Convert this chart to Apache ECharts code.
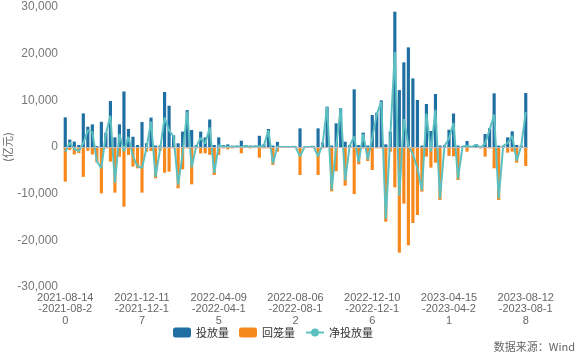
<!DOCTYPE html>
<html>
<head>
<meta charset="utf-8">
<script src="https://cdn.jsdelivr.net/npm/echarts@6/dist/echarts.min.js"></script>
<style>
  html, body { margin: 0; padding: 0; background: #fff; }
  #chart { width: 579px; height: 353px; }
</style>
</head>
<body>
<div id="chart"></div>
<script>
// 周度区间
var weeks = [
  '2021-08-14-2021-08-20','2021-08-21-2021-08-27','2021-08-28-2021-09-03','2021-09-04-2021-09-10','2021-09-11-2021-09-17',
  '2021-09-18-2021-09-24','2021-09-25-2021-10-01','2021-10-02-2021-10-08','2021-10-09-2021-10-15','2021-10-16-2021-10-22',
  '2021-10-23-2021-10-29','2021-10-30-2021-11-05','2021-11-06-2021-11-12','2021-11-13-2021-11-19','2021-11-20-2021-11-26',
  '2021-11-27-2021-12-03','2021-12-04-2021-12-10','2021-12-11-2021-12-17','2021-12-18-2021-12-24','2021-12-25-2021-12-31',
  '2022-01-01-2022-01-07','2022-01-08-2022-01-14','2022-01-15-2022-01-21','2022-01-22-2022-01-28','2022-01-29-2022-02-04',
  '2022-02-05-2022-02-11','2022-02-12-2022-02-18','2022-02-19-2022-02-25','2022-02-26-2022-03-04','2022-03-05-2022-03-11',
  '2022-03-12-2022-03-18','2022-03-19-2022-03-25','2022-03-26-2022-04-01','2022-04-02-2022-04-08','2022-04-09-2022-04-15',
  '2022-04-16-2022-04-22','2022-04-23-2022-04-29','2022-04-30-2022-05-06','2022-05-07-2022-05-13','2022-05-14-2022-05-20',
  '2022-05-21-2022-05-27','2022-05-28-2022-06-03','2022-06-04-2022-06-10','2022-06-11-2022-06-17','2022-06-18-2022-06-24',
  '2022-06-25-2022-07-01','2022-07-02-2022-07-08','2022-07-09-2022-07-15','2022-07-16-2022-07-22','2022-07-23-2022-07-29',
  '2022-07-30-2022-08-05','2022-08-06-2022-08-12','2022-08-13-2022-08-19','2022-08-20-2022-08-26','2022-08-27-2022-09-02',
  '2022-09-03-2022-09-09','2022-09-10-2022-09-16','2022-09-17-2022-09-23','2022-09-24-2022-09-30','2022-10-08-2022-10-14',
  '2022-10-15-2022-10-21','2022-10-22-2022-10-28','2022-10-29-2022-11-04','2022-11-05-2022-11-11','2022-11-12-2022-11-18',
  '2022-11-19-2022-11-25','2022-11-26-2022-12-02','2022-12-03-2022-12-09','2022-12-10-2022-12-16','2022-12-17-2022-12-23',
  '2022-12-24-2022-12-30','2022-12-31-2023-01-06','2023-01-07-2023-01-13','2023-01-14-2023-01-20','2023-01-28-2023-02-03',
  '2023-02-04-2023-02-10','2023-02-11-2023-02-17','2023-02-18-2023-02-24','2023-02-25-2023-03-03','2023-03-04-2023-03-10',
  '2023-03-11-2023-03-17','2023-03-18-2023-03-24','2023-03-25-2023-03-31','2023-04-01-2023-04-07','2023-04-08-2023-04-14',
  '2023-04-15-2023-04-21','2023-04-22-2023-04-28','2023-04-29-2023-05-05','2023-05-06-2023-05-12','2023-05-13-2023-05-19',
  '2023-05-20-2023-05-26','2023-05-27-2023-06-02','2023-06-03-2023-06-09','2023-06-10-2023-06-16','2023-06-17-2023-06-23',
  '2023-06-24-2023-06-30','2023-07-01-2023-07-07','2023-07-08-2023-07-14','2023-07-15-2023-07-21','2023-07-22-2023-07-28',
  '2023-07-29-2023-08-04','2023-08-05-2023-08-11','2023-08-12-2023-08-18'
];

// 投放量（亿元）
var injection = [
  6350, 1600, 1170, 430, 7200, 4350, 4850, 200, 5400, 3070,
  9850, 2070, 4850, 11900, 3860, 2200, 430, 5350, 800, 6300,
  300, 300, 11800, 8850, 2500, 800, 3300, 7900, 3640, 430,
  3300, 2070, 5900, 430, 2070, 430, 570, 290, 300, 1360,
  400, 300, 300, 2400, 600, 3860, 300, 1100, 200, 150,
  100, 100, 4000, 100, 100, 200, 4000, 930, 8640, 300,
  5070, 8300, 1140, 430, 12350, 400, 3070, 300, 6860, 7350,
  9990, 570, 3280, 29000, 12200, 18140, 21350, 14700, 10070, 300,
  9210, 3430, 11350, 300, 400, 3700, 7180, 300, 200, 1290,
  200, 640, 200, 2790, 4000, 11500, 300, 300, 2070, 3360,
  430, 300, 11570
];

// 回笼量（亿元）
var withdrawal = [
  -7430, -640, -1600, -1300, -6400, -800, -1600, -3300, -9930, -300,
  -3140, -9780, -2070, -12800, -1700, -4200, -4570, -9780, -1000, -860,
  -6700, -800, -5500, -5280, -300, -8850, -4780, -300, -8000, -300,
  -1360, -1360, -1700, -6000, -1700, -300, -500, -300, -200, -1360,
  -200, -300, -200, -2300, -300, -300, -3860, -1000, -200, -150,
  -100, -50, -6000, -100, -100, -100, -6000, -300, 0, -9500,
  -5200, 0, -8300, -200, -10100, -3700, -300, -3000, -4930, -300,
  -300, -16000, -1000, -8640, -22640, -12140, -21070, -16280, -14570, -9570,
  -2070, -4430, -3360, -11350, -200, -1900, -2000, -7070, -100, -1000,
  -200, -200, -300, -2070, -300, -4570, -11350, -100, -1210, -1000,
  -3360, -100, -4070
];

// 净投放量（亿元）
var netInjection = [
  -1080, 960, -430, -870, 800, 3550, 3250, -3100, -4530, 2770,
  6710, -7710, 2780, -900, 2160, -2000, -4140, -4430, -200, 5440,
  -6400, -500, 6300, 3570, 2200, -8050, -1480, 7600, -4360, 130,
  1940, 710, 4200, -5570, 370, 130, 70, -10, 100, 0,
  200, 0, 100, 100, 300, 3560, -3560, 100, 0, 0,
  0, 50, -2000, 0, 0, 100, -2000, 630, 8640, -9200,
  -130, 8300, -7160, 230, 2250, -3300, 2770, -2700, 1930, 7050,
  9690, -15430, 2280, 20360, -10440, 6000, 280, -1580, -4500, -9270,
  7140, -1000, 7990, -11050, 200, 1800, 5180, -6770, 100, 290,
  0, 440, -100, 720, 3700, 6930, -11050, 200, 860, 2360,
  -2930, 200, 7500
];

var yTicks = [-30000, -20000, -10000, 0, 10000, 20000, 30000];

var myChart = echarts.init(document.getElementById('chart'));
var options = {
  animation: false,
  textStyle: { fontFamily: '"Liberation Sans", "Noto Sans CJK SC", sans-serif' },
  grid: { left: 63, right: 51, top: 7, bottom: 66, outerBoundsMode: 'none' },
  legend: {
    left: 168,
    top: 322,
    itemWidth: 18,
    itemHeight: 10,
    itemGap: 10,
    textStyle: { fontSize: 11, color: '#333', fontFamily: '"Noto Sans CJK SC", sans-serif' },
    data: [
      { name: '投放量', icon: 'roundRect' },
      { name: '回笼量', icon: 'roundRect' },
      { name: '净投放量' }
    ]
  },
  graphic: [{
    type: 'text',
    right: 4,
    bottom: 1,
    style: {
      text: '数据来源：Wind',
      fill: '#666',
      font: '11px "Noto Sans CJK SC", sans-serif'
    }
  }],
  xAxis: {
    type: 'category',
    data: weeks,
    axisLine: { show: false, onZero: false },
    axisTick: { show: false },
    axisLabel: {
      interval: 16,
      margin: 5,
      fontSize: 11,
      lineHeight: 11.5,
      color: '#666',
      formatter: function (v) {
        return v.slice(0, 10) + '\n' + v.slice(10, 20) + '\n' + v.slice(20);
      }
    }
  },
  yAxis: {
    type: 'value',
    min: yTicks[0],
    max: yTicks[yTicks.length - 1],
    interval: 10000,
    name: '(亿元)',
    nameLocation: 'middle',
    nameRotate: 90,
    nameGap: 50,
    nameMoveOverlap: false,
    nameTextStyle: { fontSize: 11, color: '#666', fontFamily: '"Noto Sans CJK SC", sans-serif' },
    axisLine: { show: false },
    axisTick: { show: false },
    splitLine: { show: false },
    axisLabel: {
      fontSize: 12,
      color: '#777',
      margin: 5,
      formatter: function (v) {
        return v.toLocaleString('en-US');
      }
    }
  },
  series: [
    {
      name: '投放量',
      type: 'bar',
      stack: 'total',
      barCategoryGap: '30%',
      itemStyle: { color: '#1f6fa3' },
      data: injection,
      markLine: {
        silent: true,
        symbol: 'none',
        label: { show: false },
        lineStyle: { color: '#bbb', width: 1, type: 'solid' },
        data: [{ yAxis: 0 }]
      }
    },
    {
      name: '回笼量',
      type: 'bar',
      stack: 'total',
      barCategoryGap: '30%',
      itemStyle: { color: '#f7881c' },
      data: withdrawal
    },
    {
      name: '净投放量',
      type: 'line',
      symbol: 'circle',
      symbolSize: 6,
      showSymbol: false,
      itemStyle: { color: '#5cc0c0' },
      lineStyle: { color: '#5cc0c0', width: 2 },
      data: netInjection
    }
  ]
};
myChart.setOption(options);
</script>
</body>
</html>
